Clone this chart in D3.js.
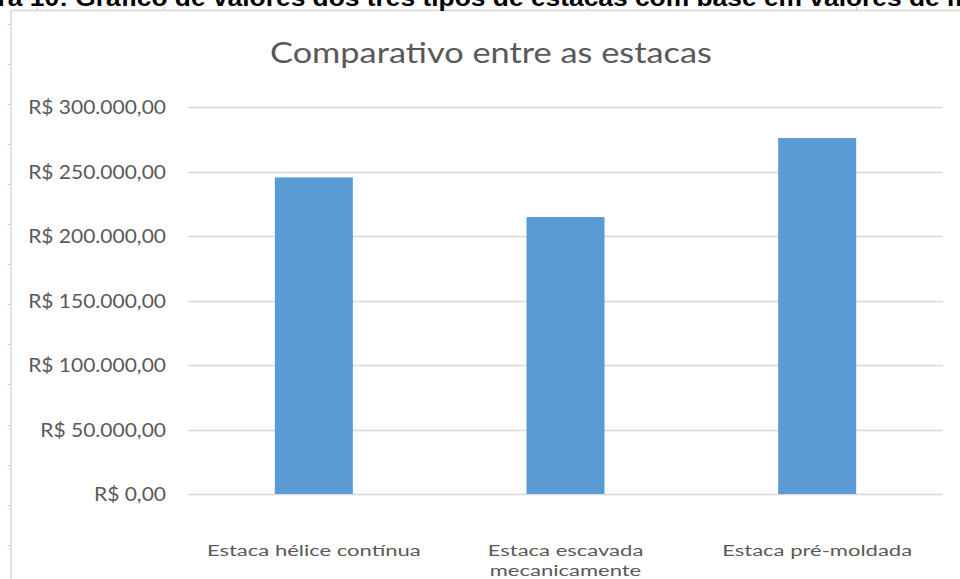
<!DOCTYPE html>
<html>
<head>
<meta charset="utf-8">
<script src="https://cdn.jsdelivr.net/npm/d3@7"></script>
<style>
  html, body { margin: 0; padding: 0; background: #ffffff; }
  svg { display: block; }
</style>
</head>
<body>
<svg id="chart" width="960" height="579"></svg>
<script>
// ---- data ----
const caption = "Figura 10: Gráfico de valores dos três tipos de estacas com base em valores de mercado";
const title = "Comparativo entre as estacas";
const categories = ["Estaca hélice contínua", "Estaca escavada mecanicamente", "Estaca pré-moldada"];
const categoryLines = [["Estaca hélice contínua"], ["Estaca escavada", "mecanicamente"], ["Estaca pré-moldada"]];
const values = [245400, 214700, 276000];
const yTickValues = [0, 50000, 100000, 150000, 200000, 250000, 300000];
const yTickLabels = ["R$ 0,00", "R$ 50.000,00", "R$ 100.000,00", "R$ 150.000,00", "R$ 200.000,00", "R$ 250.000,00", "R$ 300.000,00"];

// ---- layout ----
const W = 960, H = 579;
const plot = { left: 188, right: 943, top: 107, bottom: 494 };
const textColor = "#595959";
const gridColor = "#d9d9d9";
const barColor = "#5b9bd5";
const font = "Lato, 'Open Sans', sans-serif";

const svg = d3.select("#chart");

const x = d3.scaleBand().domain(categories).range([plot.left, plot.right]).paddingInner(0.69).paddingOuter(0.345);
const y = d3.scaleLinear().domain([0, 300000]).range([plot.bottom, plot.top]);

function stretchedText(parent, str, px, py, opts) {
  const g = parent.append("g").attr("transform", `translate(${px},${py})`);
  const t = g.append("text").text(str)
    .attr("text-anchor", opts.anchor || "start")
    .attr("font-family", opts.family || font)
    .attr("font-size", opts.size)
    .attr("font-weight", opts.weight || "normal")
    .attr("fill", opts.fill || textColor);
  return { g, t };
}

// ---- page frame (document edges) ----
const frame = svg.append("g");
frame.append("line").attr("x1", 11).attr("x2", W).attr("y1", 10.5).attr("y2", 10.5)
  .attr("stroke", gridColor).attr("stroke-width", 1.5);
frame.append("line").attr("x1", 11).attr("x2", 11).attr("y1", 10).attr("y2", H)
  .attr("stroke", gridColor).attr("stroke-width", 1.5);
frame.selectAll(".rl").data(d3.range(24, H, 40.05)).join("line")
  .attr("x1", 7.5).attr("x2", 10).attr("y1", d => Math.round(d) + 0.5).attr("y2", d => Math.round(d) + 0.5)
  .attr("stroke", "#c8c8c8").attr("stroke-width", 1);
frame.selectAll(".rt").data([37, 164, 587, 856]).join("line")
  .attr("x1", d => d + 0.5).attr("x2", d => d + 0.5).attr("y1", 7).attr("y2", 10)
  .attr("stroke", "#c8c8c8").attr("stroke-width", 1);

// ---- caption (cut off at top, as in the reference) ----
{
  const probe = svg.append("text").attr("font-family", "'Liberation Sans', Arial, sans-serif")
    .attr("font-weight", "bold").attr("font-size", 24);
  probe.text("Figura 10: ");
  const pre = probe.node().getComputedTextLength();
  probe.text("Gráfico de valores dos três tipos de estacas com base em valores de ");
  const mid = probe.node().getComputedTextLength();
  probe.remove();
  const k = 865 / mid;
  const { g } = stretchedText(svg, caption, 0, 0, { size: 24, weight: "bold", fill: "#000000", family: "'Liberation Sans', Arial, sans-serif" });
  g.attr("transform", `translate(${68 - pre * k},6) scale(${k},1)`);
}

// ---- gridlines ----
svg.append("g").selectAll("line").data(yTickValues).join("line")
  .attr("x1", plot.left).attr("x2", plot.right)
  .attr("y1", d => Math.round(y(d)) + 0.5).attr("y2", d => Math.round(y(d)) + 0.5)
  .attr("stroke", gridColor).attr("stroke-width", 1.3);

// ---- bars ----
svg.append("g").selectAll("rect").data(values).join("rect")
  .attr("x", (d, i) => x(categories[i]))
  .attr("width", x.bandwidth())
  .attr("y", d => y(d))
  .attr("height", d => y(0) - y(d))
  .attr("fill", barColor);

// ---- y axis labels ----
{
  const probe = svg.append("text").attr("font-family", font).attr("font-size", 19).text("R$ 300.000,00");
  const L = probe.node().getComputedTextLength();
  probe.remove();
  const k = 138 / L;
  yTickValues.forEach((v, i) => {
    const { g } = stretchedText(svg, yTickLabels[i], 166, y(v) + 7, { size: 19, anchor: "end" });
    g.attr("transform", `translate(166,${y(v) + 7}) scale(${k},1)`);
  });
}

// ---- category labels ----
{
  const fs = 16;
  const probe = svg.append("text").attr("font-family", font).attr("font-size", fs).text("Estaca hélice contínua");
  const L = probe.node().getComputedTextLength();
  probe.remove();
  const k = 214 / L;
  categoryLines.forEach((lines, i) => {
    const cx = x(categories[i]) + x.bandwidth() / 2;
    lines.forEach((ln, j) => {
      const by = 556 + j * 19.5;
      const { g } = stretchedText(svg, ln, cx, by, { size: fs, anchor: "middle" });
      g.attr("transform", `translate(${cx},${by}) scale(${k},1)`);
    });
  });
}

// ---- title ----
{
  const probe = svg.append("text").attr("font-family", font).attr("font-size", 28).text(title);
  const L = probe.node().getComputedTextLength();
  probe.remove();
  const k = 442 / L;
  const { g } = stretchedText(svg, title, 491, 63, { size: 28, anchor: "middle" });
  g.attr("transform", `translate(491,63) scale(${k},1)`);
}
</script>
</body>
</html>
